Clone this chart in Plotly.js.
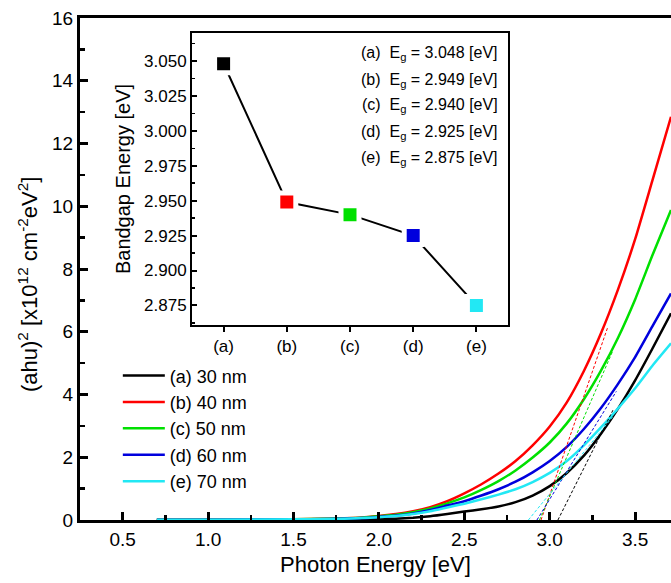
<!DOCTYPE html>
<html>
<head>
<meta charset="utf-8">
<script src="https://cdn.plot.ly/plotly-3.0.1.min.js"></script>
<style>
html,body{margin:0;padding:0;background:#fff;overflow:hidden;}
#chart{width:671px;height:583px;}
</style>
</head>
<body>
<div id="chart"></div>
<script>
// Photon energy grid (eV)
var energy = [0.7, 1.0, 1.5, 1.7, 1.9, 2.0, 2.1, 2.2, 2.3, 2.4, 2.5, 2.6, 2.7, 2.8, 2.9, 3.0, 3.1, 3.2, 3.3, 3.4, 3.5, 3.6, 3.71];
// (ahv)^2 values [x10^12 cm^-2 eV^2]
var curveA = [0.0, 0.0, 0.0, 0.0, 0.01, 0.02, 0.04, 0.07, 0.12, 0.19, 0.27, 0.34, 0.43, 0.57, 0.78, 1.08, 1.5, 2.05, 2.75, 3.55, 4.45, 5.45, 6.59];
var curveB = [0.01, 0.01, 0.02, 0.04, 0.08, 0.13, 0.19, 0.28, 0.41, 0.6, 0.85, 1.14, 1.48, 1.88, 2.38, 2.98, 3.75, 4.75, 5.95, 7.35, 8.95, 10.8, 12.85];
var curveC = [0.01, 0.01, 0.02, 0.04, 0.07, 0.12, 0.17, 0.25, 0.37, 0.53, 0.72, 0.96, 1.24, 1.58, 1.99, 2.47, 3.08, 3.85, 4.76, 5.81, 7.03, 8.42, 9.88];
var curveD = [0.01, 0.01, 0.02, 0.03, 0.06, 0.1, 0.14, 0.21, 0.32, 0.46, 0.6, 0.78, 0.98, 1.22, 1.52, 1.88, 2.33, 2.9, 3.57, 4.34, 5.19, 6.16, 7.22];
var curveE = [0.01, 0.01, 0.02, 0.03, 0.06, 0.09, 0.13, 0.19, 0.28, 0.4, 0.52, 0.66, 0.81, 0.98, 1.21, 1.5, 1.88, 2.38, 2.95, 3.56, 4.2, 4.91, 5.63];
var seriesNames = ["(a) 30 nm", "(b) 40 nm", "(c) 50 nm", "(d) 60 nm", "(e) 70 nm"];
var seriesColors = ["#000000", "#ff0000", "#00e000", "#0000dd", "#22e8f4"];

// Tangent (extrapolation) lines: start at Eg on the x-axis, end on the curve
var tangentX0 = [3.048, 2.949, 2.940, 2.925, 2.875];
var tangentY0 = [0, 0, 0, 0, 0];
var tangentX1 = [3.37, 3.34, 3.37, 3.39, 3.37];
var tangentY1 = [3.5, 6.15, 5.4, 4.1, 3.3];

// Inset: bandgap energies
var sampleLabels = ["(a)", "(b)", "(c)", "(d)", "(e)"];
var bandgap = [3.048, 2.949, 2.940, 2.925, 2.875];

var curves = [curveA, curveB, curveC, curveD, curveE];
var traces = [];
for (var i = 0; i < 5; i++) {
  traces.push({
    x: energy, y: curves[i], type: "scatter", mode: "lines",
    name: seriesNames[i], legendgroup: "g" + i,
    line: {color: seriesColors[i], width: 2.5, shape: "spline", smoothing: 0.5},
    xaxis: "x", yaxis: "y"
  });
}
for (var j = 0; j < 5; j++) {
  traces.push({
    x: [tangentX0[j], tangentX1[j]], y: [tangentY0[j], tangentY1[j]],
    type: "scatter", mode: "lines", showlegend: false,
    line: {color: seriesColors[j], width: 1, dash: "3px,2px"},
    xaxis: "x", yaxis: "y"
  });
}
traces.push({
  x: sampleLabels, y: bandgap, type: "scatter", mode: "lines+markers",
  showlegend: false, xaxis: "x2", yaxis: "y2",
  line: {color: "#000000", width: 2},
  marker: {symbol: "square", size: 18, color: seriesColors, line: {width: 5, color: "#ffffff"}}
});

var annotations = [{
  xref: "paper", yref: "paper", x: -0.088, y: 0.47,
  text: "(ahu)<sup>2</sup> [x10<sup>12</sup> cm<sup>-2</sup>eV<sup>2</sup>]",
  textangle: -90, showarrow: false, xanchor: "center", yanchor: "middle",
  font: {size: 22, color: "#000"}
}];
var annY = [53, 80, 106, 132, 158];
for (var k = 0; k < 5; k++) {
  annotations.push({
    xref: "paper", yref: "paper", x: (500 - 80) / 591, y: (520 - annY[k]) / 502,
    xanchor: "right", yanchor: "middle", showarrow: false,
    text: sampleLabels[k] + "  E<sub>g</sub> = " + bandgap[k].toFixed(3) + " [eV]",
    font: {size: 16, color: "#000"}
  });
}

var layout = {
  width: 671, height: 583,
  margin: {l: 80, r: 0, t: 18, b: 63},
  paper_bgcolor: "#fff", plot_bgcolor: "rgba(0,0,0,0)",
  font: {family: "Arial, 'Liberation Sans', sans-serif", color: "#000"},
  showlegend: true,
  legend: {
    x: 0.064, y: 0.324, xanchor: "left", yanchor: "top",
    bgcolor: "rgba(0,0,0,0)", borderwidth: 0, itemwidth: 42,
    font: {size: 18, color: "#000"}, tracegroupgap: 0, traceorder: "grouped"
  },
  xaxis: {
    domain: [0, 1], range: [0.25, 3.71], anchor: "y",
    showline: true, linecolor: "#000", linewidth: 3, mirror: true,
    ticks: "inside", ticklen: 8, tickwidth: 3, tickcolor: "#000",
    tick0: 0, dtick: 0.5, tickformat: ".1f",
    minor: {dtick: 0.25, ticks: "inside", ticklen: 5, tickwidth: 2.5, tickcolor: "#000"},
    showgrid: false, zeroline: false,
    tickfont: {size: 19, color: "#000"},
    title: {text: "Photon Energy [eV]", font: {size: 22, color: "#000"}, standoff: 8}
  },
  yaxis: {
    domain: [0, 1], range: [0, 16], anchor: "x",
    showline: true, linecolor: "#000", linewidth: 3, mirror: false,
    ticks: "inside", ticklen: 8, tickwidth: 3, tickcolor: "#000",
    dtick: 2,
    minor: {dtick: 1, ticks: "inside", ticklen: 5, tickwidth: 2.5, tickcolor: "#000"},
    showgrid: false, zeroline: false,
    tickfont: {size: 19, color: "#000"}
  },
  xaxis2: {
    domain: [(192 - 80) / 591, (508 - 80) / 591], anchor: "y2",
    type: "category", range: [-0.5, 4.5],
    showline: true, linecolor: "#000", linewidth: 2, mirror: true,
    ticks: "outside", ticklen: 5, tickwidth: 2, tickcolor: "#000",
    showgrid: false, zeroline: false,
    tickfont: {size: 17, color: "#000"}
  },
  yaxis2: {
    domain: [(520 - 325) / 502, (520 - 33) / 502], anchor: "x2",
    range: [2.861, 3.07],
    showline: true, linecolor: "#000", linewidth: 2, mirror: true,
    ticks: "inside", ticklen: 5, tickwidth: 2, tickcolor: "#000",
    tick0: 2.875, dtick: 0.025, tickformat: ".3f",
    minor: {dtick: 0.0125, ticks: "inside", ticklen: 3, tickwidth: 1.5, tickcolor: "#000"},
    showgrid: false, zeroline: false,
    tickfont: {size: 17, color: "#000"},
    title: {text: "Bandgap Energy [eV]", font: {size: 20, color: "#000"}, standoff: 8}
  },
  annotations: annotations
};

Plotly.newPlot("chart", traces, layout, {displayModeBar: false, staticPlot: true});
</script>
</body>
</html>
